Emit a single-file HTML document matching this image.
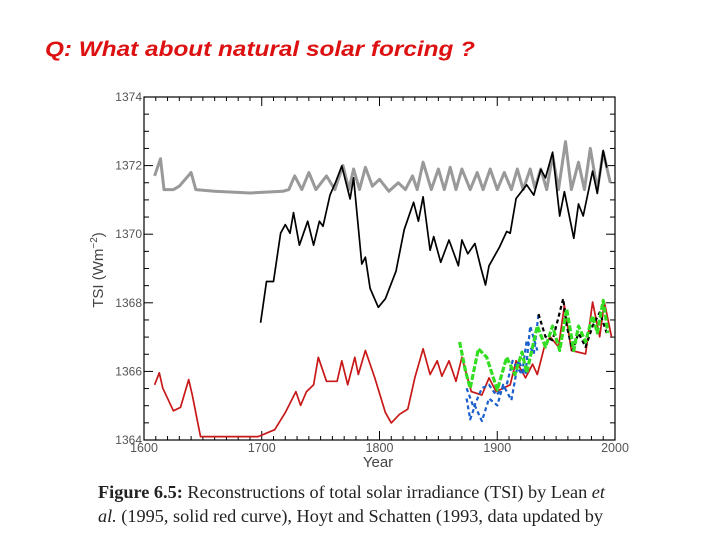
<!DOCTYPE html>
<html><head><meta charset="utf-8"><style>
body{margin:0;background:#fff;width:720px;height:540px;overflow:hidden}
svg{display:block}
</style></head><body>
<svg id="c" width="720" height="540" xmlns="http://www.w3.org/2000/svg">
<text x="45" y="56" font-family="Liberation Sans, sans-serif" font-style="italic" font-weight="bold" font-size="21" fill="#dd1111" textLength="430" lengthAdjust="spacingAndGlyphs">Q:  What about natural solar forcing ?</text>
<text x="98" y="498" font-family="Liberation Serif, serif" font-size="17.5" fill="#222" textLength="507" lengthAdjust="spacingAndGlyphs"><tspan font-weight="bold">Figure 6.5:</tspan> Reconstructions of total solar irradiance (TSI) by Lean <tspan font-style="italic">et</tspan></text>
<text x="98" y="522" font-family="Liberation Serif, serif" font-size="17.5" fill="#222" textLength="505" lengthAdjust="spacingAndGlyphs"><tspan font-style="italic">al.</tspan> (1995, solid red curve), Hoyt and Schatten (1993, data updated by</text>
<g id="plot"></g>
</svg>
<script>
const xTicks=[1600,1700,1800,1900,2000];
const yTicks=[1364,1366,1368,1370,1372,1374];
const grayYears=[1609,1614,1617,1625,1630,1640,1644,1660,1690,1718,1723,1728,1734,1740,1746,1755,1762,1769,1774,1778,1783,1788,1794,1800,1808,1816,1822,1828,1832,1837,1844,1850,1855,1860,1865,1870,1877,1883,1888,1894,1900,1906,1912,1917,1922,1928,1932,1937,1942,1947,1952,1958,1963,1969,1974,1979,1985,1990,1996];
const grayVals=[1371.7,1372.2,1371.3,1371.3,1371.4,1371.8,1371.3,1371.25,1371.2,1371.25,1371.3,1371.7,1371.3,1371.8,1371.3,1371.7,1371.3,1372.0,1371.3,1371.9,1371.3,1371.95,1371.4,1371.6,1371.25,1371.5,1371.3,1371.7,1371.3,1372.1,1371.3,1371.9,1371.3,1371.95,1371.3,1371.9,1371.3,1371.8,1371.3,1371.9,1371.3,1371.8,1371.3,1371.9,1371.3,1371.9,1371.35,1371.9,1371.3,1372.3,1371.3,1372.7,1371.3,1372.1,1371.3,1372.5,1371.3,1372.4,1371.5];
const blackYears=[1699,1704,1710,1716,1720,1724,1727,1732,1739,1744,1749,1752,1758,1763,1768,1775,1778,1785,1788,1792,1799,1805,1814,1821,1829,1833,1837,1843,1846,1852,1859,1867,1870,1875,1881,1886,1890,1893,1902,1908,1911,1916,1925,1931,1937,1941,1947,1953,1957,1965,1969,1973,1981,1985,1990,1993];
const blackVals=[1367.42,1368.62,1368.62,1370.03,1370.28,1370.03,1370.63,1369.68,1370.38,1369.68,1370.38,1370.23,1371.14,1371.54,1371.99,1371.03,1371.64,1369.13,1369.33,1368.42,1367.87,1368.12,1368.92,1370.13,1370.93,1370.38,1371.09,1369.53,1369.93,1369.18,1369.83,1369.08,1369.83,1369.43,1369.73,1369.03,1368.52,1369.08,1369.63,1370.08,1370.03,1371.04,1371.44,1371.14,1371.89,1371.64,1372.39,1370.53,1371.24,1369.88,1370.88,1370.53,1371.84,1371.19,1372.44,1371.94];
const redYears=[1609,1613,1616,1625,1631,1638,1641,1648,1670,1697,1711,1720,1729,1733,1738,1744,1748,1755,1764,1768,1773,1779,1782,1788,1796,1805,1810,1817,1824,1830,1837,1843,1849,1853,1859,1865,1870,1878,1887,1893,1899,1911,1916,1924,1930,1934,1940,1945,1952,1957,1963,1975,1981,1987,1991,1997];
const redVals=[1365.61,1365.96,1365.51,1364.85,1364.95,1365.76,1365.31,1364.10,1364.10,1364.10,1364.30,1364.80,1365.41,1365.01,1365.41,1365.61,1366.41,1365.71,1365.71,1366.31,1365.61,1366.41,1365.91,1366.61,1365.81,1364.80,1364.50,1364.75,1364.90,1365.81,1366.66,1365.91,1366.31,1365.86,1366.31,1365.71,1366.41,1365.41,1365.31,1365.81,1365.41,1365.61,1366.31,1365.81,1366.21,1365.91,1366.71,1367.01,1366.71,1367.92,1366.61,1366.51,1368.02,1367.01,1368.02,1367.01];
const greenYears=[1868,1873,1877,1884,1891,1900,1908,1915,1921,1925,1934,1941,1947,1953,1959,1965,1969,1975,1981,1985,1990,1994];
const greenVals=[1366.86,1366.01,1365.51,1366.66,1366.41,1365.46,1366.41,1365.91,1366.56,1365.96,1367.32,1366.71,1367.32,1366.61,1367.82,1366.61,1367.32,1366.86,1367.62,1367.12,1368.07,1367.12];
const blueLoYears=[1874,1877,1881,1887,1893,1900,1905,1912,1918,1924,1928,1934];
const blueLoVals=[1365.21,1364.60,1365.00,1364.55,1365.21,1365.01,1365.61,1365.16,1366.31,1365.91,1367.32,1366.61];
const blueHiYears=[1874,1880,1887,1893,1899,1908,1913,1921,1925,1931,1935];
const blueHiVals=[1365.51,1364.95,1365.51,1365.61,1365.31,1365.61,1366.31,1365.91,1366.91,1366.51,1367.67];
const blackDashYears=[1935,1941,1947,1956,1959,1964,1969,1975,1981,1987,1993];
const blackDashVals=[1367.67,1367.01,1366.91,1368.12,1367.32,1366.61,1367.12,1366.71,1367.32,1367.72,1367.12];

const L=144,R=615,T=97,B=440;
const X=y=>L+(y-1600)/400*(R-L);
const Y=v=>B-(v-1364)/10*(B-T);
const NS='http://www.w3.org/2000/svg';
const g=document.getElementById('plot');
function mk(t,a,p){const e=document.createElementNS(NS,t);for(const k in a)e.setAttribute(k,a[k]);(p||g).appendChild(e);return e;}
const frame=mk('rect',{x:L,y:T,width:R-L,height:B-T,fill:'none',stroke:'#000','stroke-width':1.2});


for(let yr=1600;yr<=2000;yr+=10){const big=yr%100===0,len=big?9:4;
 mk('line',{x1:X(yr),x2:X(yr),y1:B,y2:B-len,stroke:'#000'});
 mk('line',{x1:X(yr),x2:X(yr),y1:T,y2:T+len,stroke:'#000'});}
for(let v=1364;v<=1374;v+=0.5){const big=v%2===0,len=big?9:5;
 mk('line',{x1:L,x2:L+len,y1:Y(v),y2:Y(v),stroke:'#000'});
 mk('line',{x1:R,x2:R-len,y1:Y(v),y2:Y(v),stroke:'#000'});}
xTicks.forEach(t=>{const e=mk('text',{x:X(t),y:B+12,'text-anchor':'middle','font-family':'Liberation Sans, sans-serif','font-size':12.5,fill:'#555'});e.textContent=t;
 
 });
yTicks.forEach(t=>{const e=mk('text',{x:L-2,y:Y(t)+4,'text-anchor':'end','font-family':'Liberation Sans, sans-serif','font-size':12,fill:'#555'});e.textContent=t;
 
 });
const xt=mk('text',{x:378,y:467,'text-anchor':'middle','font-family':'Liberation Sans, sans-serif','font-size':15,fill:'#444'});xt.textContent='Year';


const yt=mk('text',{x:0,y:0,transform:'translate(103,270) rotate(-90)','text-anchor':'middle','font-family':'Liberation Sans, sans-serif','font-size':15,fill:'#444'});
yt.innerHTML='TSI (Wm<tspan dy="-6" font-size="10">−2</tspan><tspan dy="6">)</tspan>';


function line(ys,vs,col,w,dash,name){const d=ys.map((y,i)=>(i?'L':'M')+X(y).toFixed(1)+','+Y(vs[i]).toFixed(1)).join('');
 const a={d:d,fill:'none',stroke:col,'stroke-width':w,'stroke-linejoin':'round'};if(dash)a['stroke-dasharray']=dash;
 const e=mk('path',a);
 
 }
line(grayYears,grayVals,'#999',3,null,'gray-series');
line(blackYears,blackVals,'#000',1.7,null,'black-series');
line(redYears,redVals,'#c81818',1.7,null,'red-series');
line(blueLoYears,blueLoVals,'#1a5fcc',2.2,'4,3','blue-dashed-low');
line(blueHiYears,blueHiVals,'#1a5fcc',2.2,'4,3','blue-dashed-high');
line(blackDashYears,blackDashVals,'#000',2.2,'4,3','black-dashed-series');
line(greenYears,greenVals,'#33dd22',3.2,'6,2','green-dashed-series');
</script>
</body></html>
